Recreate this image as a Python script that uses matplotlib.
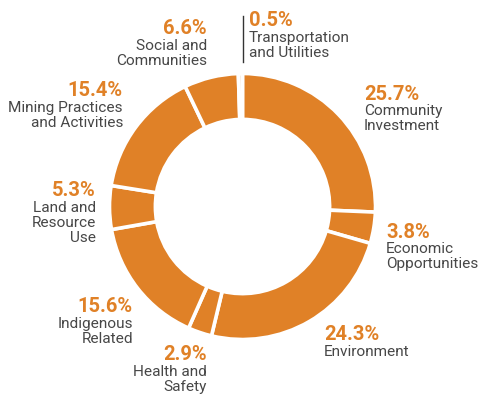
import matplotlib
matplotlib.use("Agg")
import matplotlib.pyplot as plt

categories = ["Community\nInvestment", "Economic\nOpportunities", "Environment",
              "Health and\nSafety", "Indigenous\nRelated", "Land and\nResource\nUse",
              "Mining Practices\nand Activities", "Social and\nCommunities",
              "Transportation\nand Utilities"]
values = [25.7, 3.8, 24.3, 2.9, 15.6, 5.3, 15.4, 6.6, 0.5]
pct_labels = ["25.7%", "3.8%", "24.3%", "2.9%", "15.6%", "5.3%", "15.4%", "6.6%", "0.5%"]

ORANGE = "#E08127"
PALE = "#F3DCC4"
GRAY = "#474747"
H = 401

fig = plt.figure(figsize=(4.78, 4.01), dpi=100)
ax = fig.add_axes([0, 0, 1, 1])

colors = [ORANGE] * (len(values) - 1) + [PALE]
cx, cy, R = 242.5, H - 206.5, 133
ax.pie(values, startangle=90, counterclock=False, colors=colors,
       center=(cx, cy), radius=R,
       wedgeprops=dict(width=R * 0.345, edgecolor="white", linewidth=2.6),
       frame=True)
ax.set_xlim(0, 478)
ax.set_ylim(0, H)
ax.set_aspect("equal")
ax.axis("off")

# label positions in pixel coords: (x, y of pct line center, alignment)
pos = [
    (364, 94, "left"),
    (386, 232, "left"),
    (324, 335, "left"),
    (207, 355, "right"),
    (133, 307, "right"),
    (96, 191, "right"),
    (123, 91, "right"),
    (207, 29, "right"),
    (249, 21, "left"),
]
FONT = "Roboto"
for (x, y, ha), pl, cat in zip(pos, pct_labels, categories):
    ax.text(x, H - y, pl, ha=ha, va="center", fontsize=14.5, fontweight="bold",
            color=ORANGE, family=FONT)
    ax.text(x, H - y - 10, cat, ha=ha, va="top", fontsize=11.1, color=GRAY,
            family=FONT, fontweight="normal", linespacing=1.1, multialignment=ha)

# leader line for the tiny slice
ax.plot([243, 243], [H - 16, H - 62], color="#333333", lw=1.0)

fig.savefig("out.png", dpi=100)
